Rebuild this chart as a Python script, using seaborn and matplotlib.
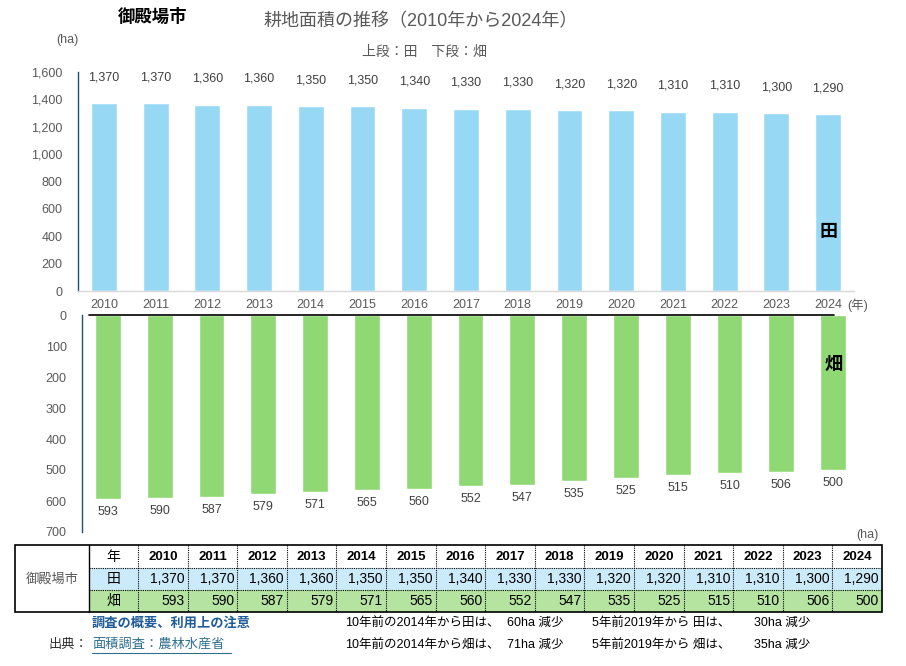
import matplotlib
matplotlib.use('Agg')
import matplotlib.pyplot as plt
import matplotlib.ticker as mticker
import seaborn as sns
import pandas as pd
from matplotlib.patches import Rectangle

# ---------------- data ----------------
years = ['2010', '2011', '2012', '2013', '2014', '2015', '2016', '2017',
         '2018', '2019', '2020', '2021', '2022', '2023', '2024']
paddy = [1370, 1370, 1360, 1360, 1350, 1350, 1340, 1330, 1330, 1320, 1320, 1310, 1310, 1300, 1290]
field = [593, 590, 587, 579, 571, 565, 560, 552, 547, 535, 525, 515, 510, 506, 500]
top_ticks = [0, 200, 400, 600, 800, 1000, 1200, 1400, 1600]
bottom_ticks = [0, 100, 200, 300, 400, 500, 600, 700]
city = '御殿場市'
title = '耕地面積の推移（2010年から2024年）'
subtitle = '上段：田　下段：畑'

sns.set_theme(style='white')
plt.rcParams['font.family'] = ['Liberation Sans', 'Noto Sans CJK JP', 'DejaVu Sans']

W, H = 906, 666
fig = plt.figure(figsize=(W / 100, H / 100), dpi=100)


def rect(l, t, r, b):
    return [l / W, 1 - b / H, (r - l) / W, (b - t) / H]


df = pd.DataFrame({'year': years, 'paddy': paddy, 'field': field})
GREY = '#595959'
SPINE = '#1F4E79'

# ---------------- top chart (田) ----------------
ax1 = fig.add_axes(rect(78, 72, 854, 291))
sns.barplot(data=df, x='year', y='paddy', color='#97D9F5', saturation=1,
            width=0.5, errorbar=None, ax=ax1)
ax1.set_xlim(-0.5, 14.5)
ax1.set_ylim(0, 1600)
ax1.set_yticks(top_ticks)
ax1.yaxis.set_major_formatter(mticker.FuncFormatter(lambda v, p: f'{int(v):,}'))
ax1.set_xlabel('')
ax1.set_ylabel('')
for s in ['top', 'right']:
    ax1.spines[s].set_visible(False)
ax1.spines['left'].set_color(SPINE)
ax1.spines['left'].set_linewidth(1)
ax1.spines['bottom'].set_color('#D9D9D9')
ax1.spines['bottom'].set_linewidth(1)
ax1.tick_params(axis='y', length=0, pad=11, labelsize=9, labelcolor=GREY)
ax1.tick_params(axis='x', length=0, pad=6, labelsize=9, labelcolor=GREY)
for i, v in enumerate(paddy):
    ax1.annotate(f'{v:,}', (i, v), xytext=(0, 26), textcoords='offset pixels',
                 ha='center', va='center', fontsize=9, color='#404040')
ax1.text(14, 424, '田', fontsize=13, fontweight='bold', ha='center', va='center',
         color='black')

# ---------------- bottom chart (畑) ----------------
ax2 = fig.add_axes(rect(82, 315, 859, 532))
sns.barplot(data=df, x='year', y='field', color='#8FD874', saturation=1,
            width=0.5, errorbar=None, ax=ax2)
ax2.set_xlim(-0.5, 14.5)
ax2.set_ylim(700, 0)
ax2.set_yticks(bottom_ticks)
ax2.set_xlabel('')
ax2.set_ylabel('')
for s in ['top', 'right', 'bottom']:
    ax2.spines[s].set_visible(False)
ax2.spines['left'].set_color(SPINE)
ax2.spines['left'].set_linewidth(1)
ax2.tick_params(axis='y', length=0, pad=11, labelsize=9, labelcolor=GREY)
ax2.tick_params(axis='x', length=0, labelbottom=False)
ax2.plot([-0.365, 14.02], [0, 0], color='black', lw=1.2, clip_on=False, zorder=5)
for i, v in enumerate(field):
    ax2.annotate(f'{v:,}', (i, v), xytext=(0, -13), textcoords='offset pixels',
                 ha='center', va='center', fontsize=9, color='#404040')
ax2.text(14, 164, '畑', fontsize=13, fontweight='bold', ha='center', va='center',
         color='black')

# ---------------- overlay (texts + table) ----------------
ax = fig.add_axes([0, 0, 1, 1])
ax.set_xlim(0, W)
ax.set_ylim(H, 0)
ax.axis('off')

ax.text(153, 16, city, fontsize=12.5, fontweight='bold', ha='center', va='center', color='black')
ax.text(421, 22, title, fontsize=13, ha='center', va='center', color=GREY)
ax.text(424, 52, subtitle, fontsize=10, ha='center', va='center', color=GREY)
ax.text(67, 40, '(ha)', fontsize=9, ha='center', va='center', color=GREY)
ax.text(858, 305, '(年)', fontsize=9, ha='center', va='center', color=GREY)
ax.text(867, 535, '(ha)', fontsize=9, ha='center', va='center', color=GREY)

# table geometry
tx0, tx1, tx2, tx3 = 15, 89, 138, 882
ty = [545, 568, 590, 612]
colw = (tx3 - tx2) / len(years)
ax.add_patch(Rectangle((tx1, ty[1]), tx3 - tx1, ty[2] - ty[1], facecolor='#CCEBFA', edgecolor='none'))
ax.add_patch(Rectangle((tx1, ty[2]), tx3 - tx1, ty[3] - ty[2], facecolor='#B5E4A0', edgecolor='none'))
for yy in ty[1:3]:
    ax.plot([tx1, tx3], [yy, yy], color='black', lw=0.8, ls=(0, (1, 1)))
for k in range(len(years)):
    xx = tx2 + k * colw
    ax.plot([xx, xx], [ty[0], ty[3]], color='black', lw=0.8, ls=(0, (1, 1)))
ax.plot([tx1, tx1], [ty[0], ty[3]], color='black', lw=1)
ax.add_patch(Rectangle((tx0, ty[0]), tx3 - tx0, ty[3] - ty[0], facecolor='none',
                       edgecolor='black', lw=1.2))

ax.text((tx0 + tx1) / 2, (ty[0] + ty[3]) / 2 + 1, city, fontsize=9.5, ha='center',
        va='center', color=GREY)
rowc = [(ty[i] + ty[i + 1]) / 2 for i in range(3)]
for lab, yc in zip(['年', '田', '畑'], rowc):
    ax.text((tx1 + tx2) / 2, yc, lab, fontsize=10, ha='center', va='center', color='black')
for k, (yr, p, f) in enumerate(zip(years, paddy, field)):
    cx = tx2 + (k + 0.5) * colw
    rx = tx2 + (k + 1) * colw - 3
    ax.text(cx, rowc[0], yr, fontsize=9.5, fontweight='bold', ha='center', va='center', color='black')
    ax.text(rx, rowc[1], f'{p:,}', fontsize=10, ha='right', va='center', color='black')
    ax.text(rx, rowc[2], f'{f:,}', fontsize=10, ha='right', va='center', color='black')

# footer
ax.text(92, 623, '調査の概要、利用上の注意', fontsize=9.5, fontweight='bold', ha='left',
        va='center', color='#1F5C99')
ax.text(49, 645, '出典：', fontsize=9.5, ha='left', va='center', color='#333333')
ax.text(92, 645, '面積調査：農林水産省', fontsize=9.5, ha='left', va='center', color='#2E6F8E')
ax.plot([92, 231], [653, 653], color='#2E6F8E', lw=0.8)

i2014 = years.index('2014')
i2019 = years.index('2019')
d10_p = paddy[i2014] - paddy[-1]
d5_p = paddy[i2019] - paddy[-1]
d10_f = field[i2014] - field[-1]
d5_f = field[i2019] - field[-1]
for yy, name, d10, d5 in [(623, '田', d10_p, d5_p), (645, '畑', d10_f, d5_f)]:
    ax.text(345, yy, f'10年前の2014年から{name}は、', fontsize=9, ha='left', va='center', color='black')
    ax.text(507, yy, f'{d10}ha 減少', fontsize=9, ha='left', va='center', color='black')
    ax.text(592, yy, f'5年前2019年から {name}は、', fontsize=9, ha='left', va='center', color='black')
    ax.text(754, yy, f'{d5}ha 減少', fontsize=9, ha='left', va='center', color='black')

fig.savefig('out.png', dpi=100)
